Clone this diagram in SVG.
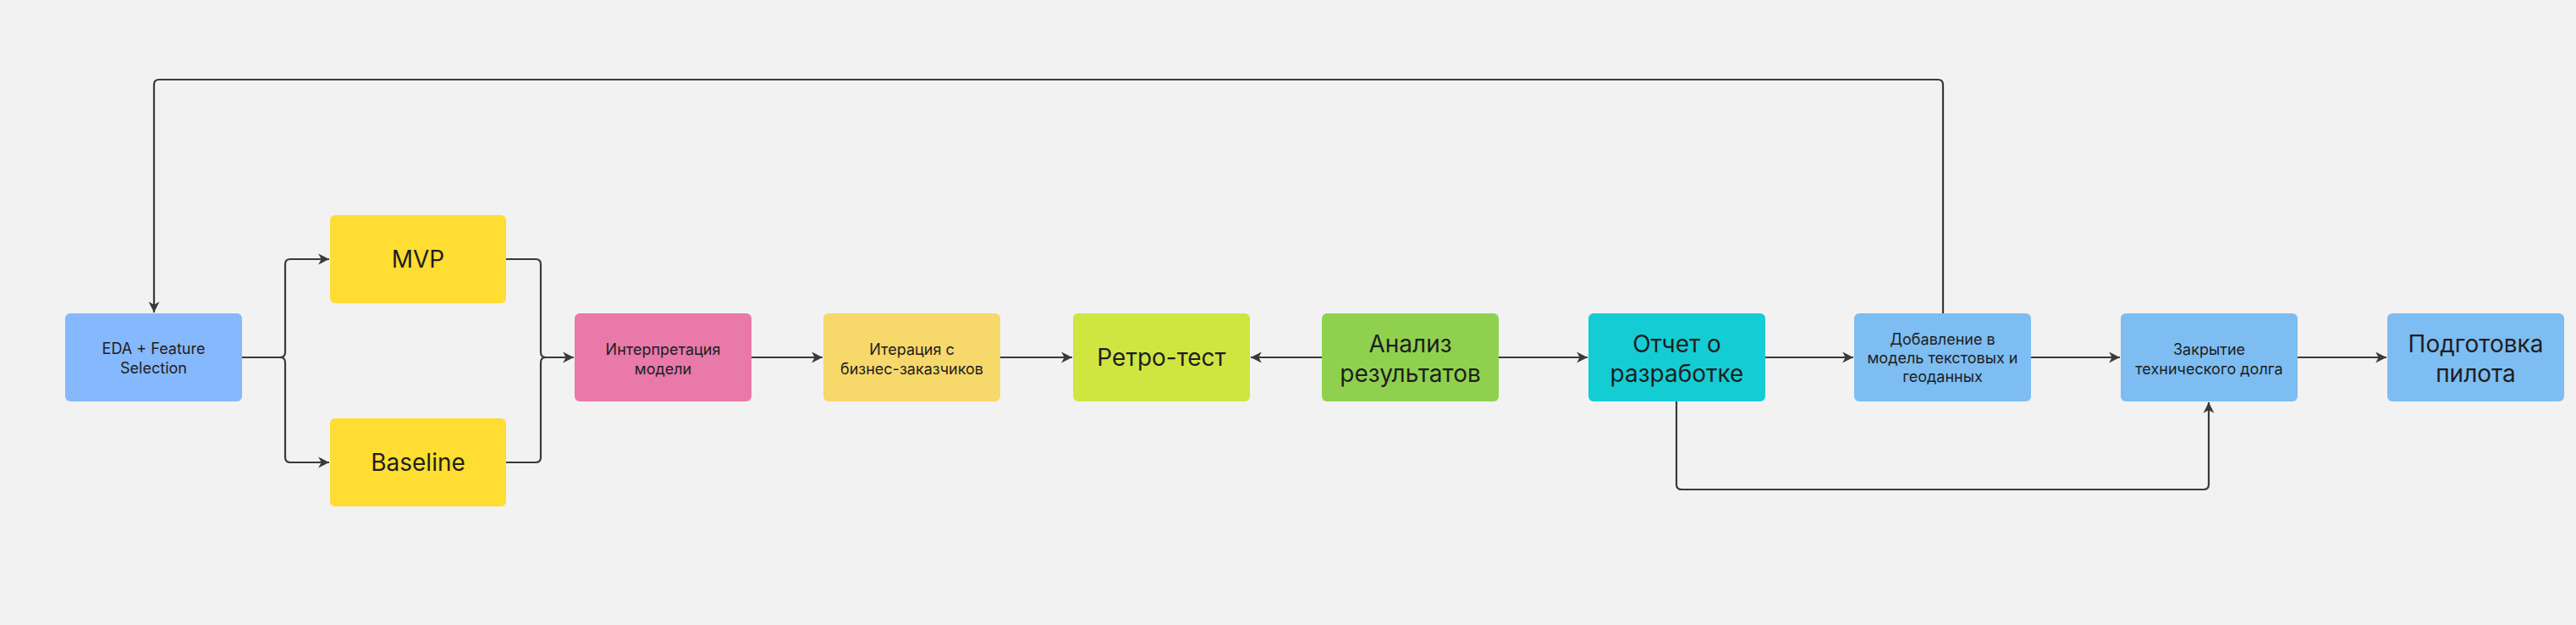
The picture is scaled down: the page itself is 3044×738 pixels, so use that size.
<svg xmlns="http://www.w3.org/2000/svg" width="3044" height="738" viewBox="0 0 3044 738">
<defs>
<style>
.box{stroke:none}
.t{font-family:Inter,"Liberation Sans","Noto Sans",sans-serif;fill:#1e1e1e;text-anchor:middle}
.s{font-size:18px}
.l{font-size:28px}
.c{fill:none;stroke:#3a3a3a;stroke-width:2.2;stroke-linejoin:round}
</style>
<marker id="ah" markerUnits="userSpaceOnUse" markerWidth="14" markerHeight="14" viewBox="0 0 12 12" refX="11" refY="6" orient="auto">
<path d="M0,0.5 L11,6 L0,11.5 L3,6 Z" fill="#3a3a3a"/>
</marker>
</defs>
<rect width="3044" height="738" fill="#f2f2f2"/>

<g id="connectors">
<path class="c" d="M286 422 H331 Q337 422 337 416 V312 Q337 306 343 306 H389" marker-end="url(#ah)"/>
<path class="c" d="M286 422 H331 Q337 422 337 428 V540 Q337 546 343 546 H389" marker-end="url(#ah)"/>
<path class="c" d="M598 306 H633 Q639 306 639 312 V416 Q639 422 645 422 H678" marker-end="url(#ah)"/>
<path class="c" d="M598 546 H633 Q639 546 639 540 V428 Q639 422 645 422 H678"/>
<path class="c" d="M888 422 H972" marker-end="url(#ah)"/>
<path class="c" d="M1182 422 H1267" marker-end="url(#ah)"/>
<path class="c" d="M1562 422 H1478" marker-end="url(#ah)"/>
<path class="c" d="M1771 422 H1876" marker-end="url(#ah)"/>
<path class="c" d="M2086 422 H2190" marker-end="url(#ah)"/>
<path class="c" d="M2400 422 H2505" marker-end="url(#ah)"/>
<path class="c" d="M2715 422 H2820" marker-end="url(#ah)"/>
<path class="c" d="M1981 474 V572 Q1981 578 1987 578 H2604 Q2610 578 2610 572 V475" marker-end="url(#ah)"/>
<path class="c" d="M2296 370 V100 Q2296 94 2290 94 H188 Q182 94 182 100 V369" marker-end="url(#ah)"/>
</g>

<g id="n-eda">
<rect class="box" x="77" y="370" width="209" height="104" rx="6" fill="#86b8fd"/>
<text class="t s" x="181.5" y="418" fill="#2b2f3a">EDA + Feature</text>
<text class="t s" x="181.5" y="441">Selection</text>
</g>
<g id="n-mvp">
<rect class="box" x="390" y="254" width="208" height="104" rx="6" fill="#ffdd33"/>
<text class="t l" x="494" y="316">MVP</text>
</g>
<g id="n-baseline">
<rect class="box" x="390" y="494" width="208" height="104" rx="6" fill="#ffdd33"/>
<text class="t l" x="494" y="556">Baseline</text>
</g>
<g id="n-interp">
<rect class="box" x="679" y="370" width="209" height="104" rx="6" fill="#e879a9"/>
<text class="t s" x="783.5" y="419">Интерпретация</text>
<text class="t s" x="783.5" y="442">модели</text>
</g>
<g id="n-iter">
<rect class="box" x="973" y="370" width="209" height="104" rx="6" fill="#f7d86b"/>
<text class="t s" x="1077.5" y="419">Итерация с</text>
<text class="t s" x="1077.5" y="442">бизнес-заказчиков</text>
</g>
<g id="n-retro">
<rect class="box" x="1268" y="370" width="209" height="104" rx="6" fill="#cfe641"/>
<text class="t l" x="1372.5" y="432">Ретро-тест</text>
</g>
<g id="n-analysis">
<rect class="box" x="1562" y="370" width="209" height="104" rx="6" fill="#8fd14f"/>
<text class="t l" x="1666.5" y="416">Анализ</text>
<text class="t l" x="1666.5" y="451">результатов</text>
</g>
<g id="n-report">
<rect class="box" x="1877" y="370" width="209" height="104" rx="6" fill="#14cdd4"/>
<text class="t l" x="1981.5" y="416">Отчет о</text>
<text class="t l" x="1981.5" y="451">разработке</text>
</g>
<g id="n-add">
<rect class="box" x="2191" y="370" width="209" height="104" rx="6" fill="#7dbdf2"/>
<text class="t s" x="2295.5" y="407">Добавление в</text>
<text class="t s" x="2295.5" y="429">модель текстовых и</text>
<text class="t s" x="2295.5" y="451">геоданных</text>
</g>
<g id="n-debt">
<rect class="box" x="2506" y="370" width="209" height="104" rx="6" fill="#7dbdf2"/>
<text class="t s" x="2610.5" y="419">Закрытие</text>
<text class="t s" x="2610.5" y="442">технического долга</text>
</g>
<g id="n-pilot">
<rect class="box" x="2821" y="370" width="209" height="104" rx="6" fill="#7dbdf2"/>
<text class="t l" x="2925.5" y="416">Подготовка</text>
<text class="t l" x="2925.5" y="451">пилота</text>
</g>
</svg>
